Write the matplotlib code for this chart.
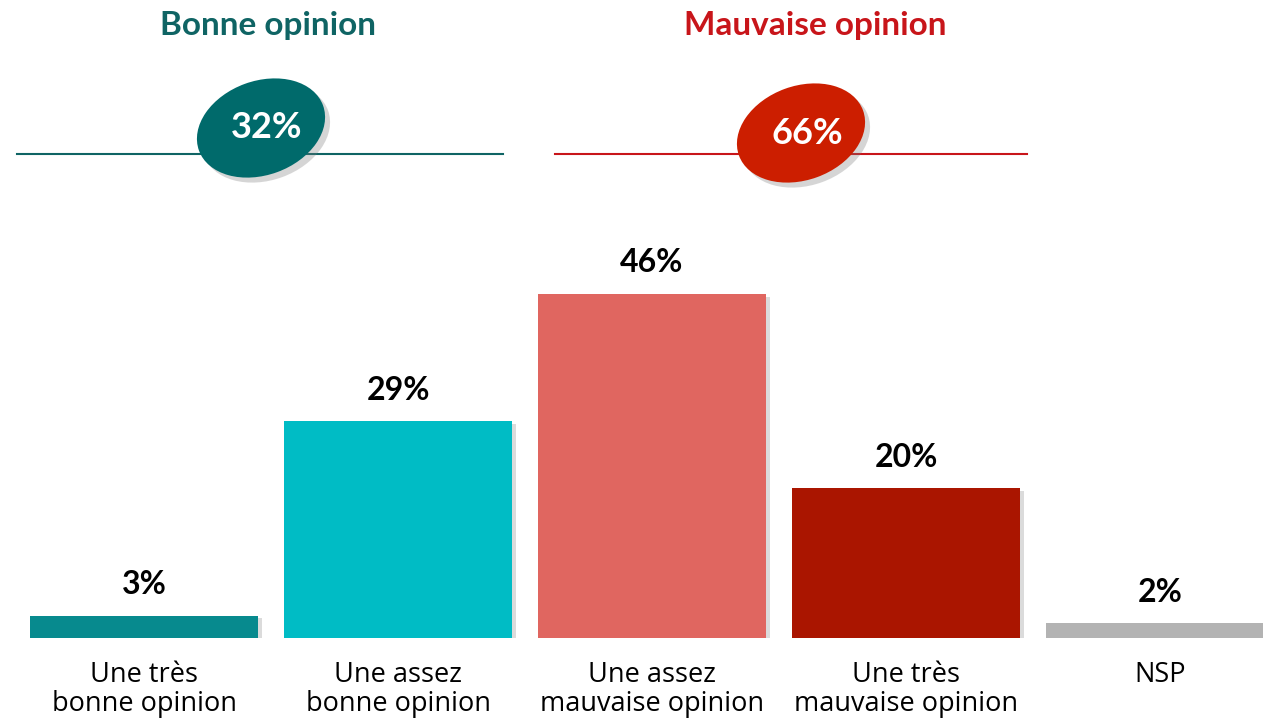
import matplotlib.pyplot as plt
from matplotlib.patches import Ellipse
import matplotlib.patheffects as pe

plt.rcParams['font.family'] = ['Open Sans', 'DejaVu Sans']
BOLD = ['Lato', 'DejaVu Sans']

# data
categories = ["Une très\nbonne opinion", "Une assez\nbonne opinion",
              "Une assez\nmauvaise opinion", "Une très\nmauvaise opinion", "NSP"]
values = [3, 29, 46, 20, 2]
labels = ["3%", "29%", "46%", "20%", "2%"]
colors = ["#078A8E", "#00BCC5", "#E06660", "#AA1500", "#B3B3B3"]

groups = ["Bonne opinion", "Mauvaise opinion"]
group_totals = ["32%", "66%"]
group_colors = ["#0F6464", "#C8151A"]
ellipse_colors = ["#006A6B", "#CC1E00"]

W, H = 1263, 718
fig = plt.figure(figsize=(W / 100, H / 100), dpi=100)

# bar axes: baseline at y=638px, 254px per category
ax = fig.add_axes([0, 80 / H, 1, 638 / H])
x = list(range(len(values)))
bars = ax.bar(x, values, width=228 / 254, color=colors, zorder=2)
for b in bars:
    b.set_path_effects([pe.SimplePatchShadow(offset=(3, -2), shadow_rgbFace='#888888', alpha=0.3), pe.Normal()])
ax.set_xlim(-144 / 254, (W - 144) / 254)
ax.set_ylim(0, 638 / 7.48)
ax.axis('off')
for xi, v, lab in zip(x, values, labels):
    ax.text(xi, v + 2.2, lab, ha='center', va='bottom', fontsize=23, fontweight='bold',
            family=BOLD, color='black')
for xi, cat in zip(x, categories):
    ax.text(xi, -3.1, cat, ha='center', va='top', fontsize=19.5, color='black', linespacing=1.05)

# header overlay in pixel coordinates
top = fig.add_axes([0, 0, 1, 1], zorder=5)
top.set_xlim(0, W)
top.set_ylim(H, 0)
top.axis('off')
top.patch.set_alpha(0)

header_x = [268, 815]
line_spans = [(17, 503), (555, 1027)]
ell_centers = [(261, 128), (801, 133)]
for i in range(2):
    top.text(header_x[i], 25, groups[i], ha='center', va='center', fontsize=24,
             fontweight='bold', family=BOLD, color=group_colors[i])
    top.plot(line_spans[i], [154, 154], color=group_colors[i], lw=1.5, zorder=1)
    cx, cy = ell_centers[i]
    top.add_patch(Ellipse((cx + 5, cy + 5), 132, 94, angle=-20, color='#777777', alpha=0.3, zorder=2, lw=0))
    top.add_patch(Ellipse((cx, cy), 132, 94, angle=-20, color=ellipse_colors[i], zorder=3, lw=0))
    top.text(cx + 6, cy, group_totals[i], ha='center', va='center', fontsize=26,
             fontweight='bold', family=BOLD, color='white', zorder=4)

fig.savefig("out.png", dpi=100)
